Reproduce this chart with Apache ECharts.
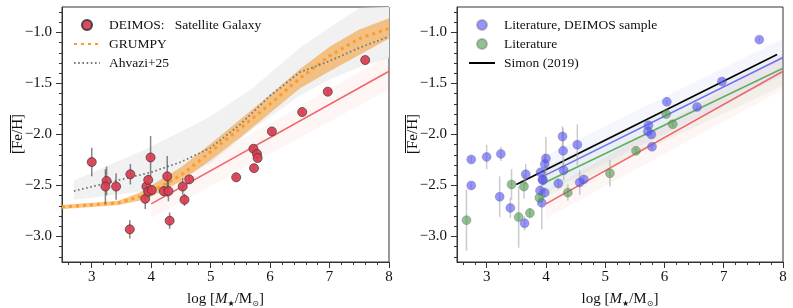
<!DOCTYPE html>
<html>
<head>
<meta charset="utf-8">
<script src="https://cdn.jsdelivr.net/npm/echarts@6.0.0/dist/echarts.min.js"></script>
<style>html,body{margin:0;padding:0;background:#fff;}#c{width:793px;height:308px;}</style>
</head>
<body>
<div id="c"></div>
<script>
// ---------- tick values ----------
const xMajor = [3, 4, 5, 6, 7, 8];
const xMinorTicks = [2.6, 2.8, 3.2, 3.4, 3.6, 3.8, 4.2, 4.4, 4.6, 4.8, 5.2, 5.4, 5.6, 5.8, 6.2, 6.4, 6.6, 6.8, 7.2, 7.4, 7.6, 7.8];
const yMajor = [-3.0, -2.5, -2.0, -1.5, -1.0];
const yMinorTicks = [-3.2, -3.1, -2.9, -2.8, -2.7, -2.6, -2.4, -2.3, -2.2, -2.1, -1.9, -1.8, -1.7, -1.6, -1.4, -1.3, -1.2, -1.1, -0.9, -0.8];

// ---------- left panel: DEIMOS satellite galaxies ----------
const deimosX = [3.00, 3.25, 3.23, 3.41, 3.65, 3.64, 3.90, 3.92, 3.95, 3.95, 3.99, 4.01, 4.21, 4.27, 4.29, 4.31, 4.53, 4.56, 4.64, 5.43, 5.72, 5.73, 5.78, 5.79, 6.03, 6.54, 6.97, 7.60];
const deimosY = [-2.27, -2.455, -2.51, -2.51, -2.39, -2.93, -2.63, -2.51, -2.56, -2.445, -2.225, -2.545, -2.555, -2.41, -2.555, -2.845, -2.51, -2.64, -2.44, -2.42, -2.14, -2.33, -2.19, -2.23, -1.97, -1.78, -1.58, -1.27];
const deimosErr = [0.14, 0.14, 0.17, 0.13, 0.10, 0.09, 0.10, 0.05, 0.05, 0.05, 0.21, 0.05, 0.05, 0.20, 0.10, 0.08, 0.08, 0.06, 0.04, 0.03, 0.03, 0.03, 0.03, 0.03, 0.03, 0.02, 0.02, 0.02];

// GRUMPY model (median and band)
const grumpyX = [2.5, 3.0, 3.45, 3.8, 4.0, 4.5, 5.0, 5.5, 6.0, 6.5, 7.0, 7.5, 8.0];
const grumpyY = [-2.71, -2.69, -2.67, -2.61, -2.56, -2.40, -2.17, -1.94, -1.70, -1.45, -1.23, -1.06, -0.96];
const grumpyLo = [-2.73, -2.71, -2.69, -2.65, -2.61, -2.46, -2.25, -2.03, -1.79, -1.55, -1.38, -1.22, -1.06];
const grumpyHi = [-2.69, -2.67, -2.65, -2.57, -2.50, -2.32, -2.09, -1.85, -1.61, -1.36, -1.14, -0.97, -0.86];

// Ahvazi+25 (median and band)
const ahvX = [2.7, 3.5, 4.0, 4.5, 5.0, 5.5, 6.0, 6.5, 7.0, 7.5, 8.0];
const ahvY = [-2.555, -2.44, -2.37, -2.27, -2.13, -1.90, -1.62, -1.39, -1.28, -1.15, -1.04];
const ahvBandX = [2.7, 4.0, 5.0, 5.7, 6.5, 7.0, 7.5, 8.0];
const ahvBandHi = [-2.45, -2.12, -1.82, -1.55, -1.15, -0.95, -0.76, -0.75];
const ahvBandLo = [-2.64, -2.55, -2.28, -1.95, -1.62, -1.46, -1.34, -1.25];

// DEIMOS fit (red) with band
const redFitX = [4.0, 8.0];
const redFitY = [-2.68, -1.38];
const redFitLo = [-2.82, -1.56];
const redFitHi = [-2.56, -1.22];

// ---------- right panel ----------
const litDeimosX = [2.74, 2.74, 3.00, 3.24, 3.22, 3.40, 3.66, 3.64, 3.91, 3.90, 3.93, 3.94, 3.95, 4.00, 3.98, 3.98, 4.21, 4.28, 4.29, 4.30, 4.53, 4.57, 4.64, 5.73, 5.72, 5.78, 5.79, 6.04, 6.55, 6.97, 7.60];
const litDeimosY = [-2.245, -2.50, -2.22, -2.19, -2.61, -2.72, -2.39, -2.87, -2.37, -2.55, -2.67, -2.44, -2.45, -2.235, -2.29, -2.57, -2.48, -2.02, -2.16, -2.35, -2.10, -2.47, -2.44, -1.91, -1.97, -2.00, -2.12, -1.68, -1.73, -1.48, -1.07];
const litDeimosErr = [0.03, 0.03, 0.12, 0.07, 0.20, 0.10, 0.10, 0.07, 0.03, 0.05, 0.26, 0.05, 0.05, 0.21, 0.10, 0.05, 0.05, 0.10, 0.22, 0.10, 0.20, 0.12, 0.04, 0.03, 0.03, 0.03, 0.03, 0.02, 0.02, 0.02, 0.02];

const litX = [2.66, 3.42, 3.54, 3.63, 3.73, 3.89, 4.37, 5.08, 5.52, 6.03, 6.14];
const litY = [-2.84, -2.49, -2.81, -2.51, -2.77, -2.62, -2.57, -2.38, -2.16, -1.80, -1.90];
const litErr = [0.30, 0.15, 0.30, 0.12, 0.05, 0.05, 0.08, 0.13, 0.03, 0.03, 0.03];

const simonX = [3.5, 7.9];
const simonY = [-2.49, -1.215];
const blueFitX = [3.95, 8.0];
const blueFitY = [-2.41, -1.245];
const blueFitLo = [-2.58, -1.42];
const blueFitHi = [-2.22, -1.06];
const greenFitX = [3.95, 8.0];
const greenFitY = [-2.48, -1.35];
const greenFitLo = [-2.63, -1.52];
const greenFitHi = [-2.33, -1.20];

// ---------- helpers ----------
const FONT = 'Liberation Serif';
const INK = '#111';
const AX = '#333';

function pairs(xs, ys) { return xs.map((x, i) => [x, ys[i]]); }

function xMainAxis(gi) {
  return {
    type: 'value', gridIndex: gi, position: 'bottom', min: 2.5, max: 8,
    name: 'log [{it|M}{s|\u2605}/M{s|\u2299}]',
    nameLocation: 'middle', nameGap: 21,
    nameTextStyle: {
      fontFamily: FONT, fontSize: 15, color: INK, lineHeight: 18,
      rich: {
        it: { fontFamily: FONT, fontStyle: 'italic', fontSize: 15, lineHeight: 18, color: INK },
        s: { fontFamily: 'DejaVu Sans', fontSize: 8, lineHeight: 9, verticalAlign: 'bottom', color: INK }
      }
    },
    axisLine: { show: true, onZero: false, lineStyle: { color: AX, width: 1 } },
    axisTick: { show: true, inside: false, length: 6, customValues: xMajor, lineStyle: { color: AX } },
    axisLabel: { show: true, customValues: xMajor, margin: 8, fontFamily: FONT, fontSize: 15, color: INK },
    splitLine: { show: false }
  };
}
function xMinorAxis(gi) {
  return {
    type: 'value', gridIndex: gi, position: 'bottom', min: 2.5, max: 8,
    axisLine: { show: false },
    axisTick: { show: true, inside: false, length: 3, customValues: xMinorTicks, lineStyle: { color: AX } },
    axisLabel: { show: false }, splitLine: { show: false }
  };
}
function yMainAxis(gi) {
  return {
    type: 'value', gridIndex: gi, position: 'left', min: -3.25, max: -0.75,
    axisLine: { show: true, onZero: false, lineStyle: { color: AX, width: 1 } },
    axisTick: { show: true, inside: false, length: 6, customValues: yMajor, lineStyle: { color: AX } },
    axisLabel: {
      show: true, customValues: yMajor, margin: 10, fontFamily: FONT, fontSize: 15, color: INK,
      formatter: v => (v < 0 ? '\u2212' : '') + Math.abs(v).toFixed(1)
    },
    splitLine: { show: false }
  };
}
function yMinorAxis(gi) {
  return {
    type: 'value', gridIndex: gi, position: 'left', min: -3.25, max: -0.75,
    axisLine: { show: false },
    axisTick: { show: true, inside: false, length: 3, customValues: yMinorTicks, lineStyle: { color: AX } },
    axisLabel: { show: false }, splitLine: { show: false }
  };
}

function band(name, ax, xs, lo, hi, color, z) {
  return {
    type: 'custom', name: name, xAxisIndex: ax, yAxisIndex: ax, silent: true, clip: true, z: z || 1,
    data: [[xs[0], lo[0]]],
    renderItem: function (params, api) {
      const pts = [];
      for (let i = 0; i < xs.length; i++) pts.push(api.coord([xs[i], hi[i]]));
      for (let i = xs.length - 1; i >= 0; i--) pts.push(api.coord([xs[i], lo[i]]));
      return { type: 'polygon', shape: { points: pts }, style: { fill: color } };
    }
  };
}
function errBars(name, ax, xs, ys, es, color) {
  return {
    type: 'custom', name: name, xAxisIndex: ax, yAxisIndex: ax, silent: true, z: 3,
    data: xs.map((x, i) => [x, ys[i], es[i]]),
    encode: { x: 0, y: 1 },
    renderItem: function (params, api) {
      const x = api.value(0), y = api.value(1), e = api.value(2);
      const a = api.coord([x, y - e]), b = api.coord([x, y + e]);
      return { type: 'line', shape: { x1: a[0], y1: a[1], x2: b[0], y2: b[1] }, style: { stroke: color, lineWidth: 1.5 } };
    }
  };
}
function line(name, ax, xs, ys, ls, z) {
  return {
    type: 'line', name: name, xAxisIndex: ax, yAxisIndex: ax, data: pairs(xs, ys),
    symbol: 'none', showSymbol: false, silent: true, z: z || 2, lineStyle: ls, clip: true,
    itemStyle: { color: ls.color }
  };
}
function scatter(name, ax, xs, ys, style) {
  return {
    type: 'scatter', name: name, xAxisIndex: ax, yAxisIndex: ax, data: pairs(xs, ys),
    symbol: 'circle', symbolSize: 9, itemStyle: style, z: 5, silent: true
  };
}

function yLabel(cx) {
  return {
    type: 'group', x: cx, y: 134, rotation: Math.PI / 2, silent: true,
    children: [
      { type: 'text', style: { text: '[Fe/H]', x: 0, y: 0, textAlign: 'center', textVerticalAlign: 'middle', align: 'center', verticalAlign: 'middle', font: '15px "Liberation Serif"', fill: INK } },
      { type: 'line', shape: { x1: -19, y1: -7.5, x2: 19, y2: -7.5 }, style: { stroke: INK, lineWidth: 1 } }
    ]
  };
}

const legendCommon = {
  orient: 'vertical', itemWidth: 26, itemHeight: 10, itemGap: 5, padding: 0,
  selectedMode: false,
  textStyle: { fontFamily: FONT, fontSize: 13.5, color: INK, padding: [0, 0, 0, 4] }
};
const noSym = { opacity: 0, borderWidth: 0 };

const gridCommon = { top: 7, height: 255, show: true, borderColor: AX, borderWidth: 1, backgroundColor: 'transparent', containLabel: false, outerBoundsMode: 'none' };

const option = {
  animation: false,
  backgroundColor: '#fff',
  textStyle: { fontFamily: FONT },
  grid: [
    Object.assign({ left: 62, width: 327 }, gridCommon),
    Object.assign({ left: 457, width: 326 }, gridCommon)
  ],
  xAxis: [xMainAxis(0), xMinorAxis(0), xMainAxis(1), xMinorAxis(1)],
  yAxis: [yMainAxis(0), yMinorAxis(0), yMainAxis(1), yMinorAxis(1)],
  legend: [
    Object.assign({}, legendCommon, { left: 73, top: 18, data: [
      { name: 'DEIMOS:   Satellite Galaxy' },
      { name: 'GRUMPY', itemStyle: noSym },
      { name: 'Ahvazi+25', itemStyle: noSym }
    ] }),
    Object.assign({}, legendCommon, { left: 468, top: 18, data: [
      { name: 'Literature, DEIMOS sample' },
      { name: 'Literature' },
      { name: 'Simon (2019)', itemStyle: noSym }
    ] })
  ],
  graphic: [yLabel(18), yLabel(413)],
  series: [
    // left panel
    band('ahvBand', 0, ahvBandX, ahvBandLo, ahvBandHi, '#f1f1f1', 1),
    band('redBandL', 0, redFitX, redFitLo, redFitHi, 'rgba(240,90,90,0.06)', 1),
    band('grumpyBand', 0, grumpyX, grumpyLo, grumpyHi, 'rgba(245,160,60,0.6)', 1),
    line('redFitL', 0, redFitX, redFitY, { color: '#f26468', width: 1.5 }),
    line('GRUMPY', 0, grumpyX, grumpyY, { color: '#ff9b22', width: 3, type: [3, 4], cap: 'butt' }),
    line('Ahvazi+25', 0, ahvX, ahvY, { color: '#777777', width: 1.8, type: [1.6, 2.6], cap: 'butt' }),
    errBars('errL', 0, deimosX, deimosY, deimosErr, 'rgba(70,70,70,0.65)'),
    scatter('DEIMOS:   Satellite Galaxy', 0, deimosX, deimosY, { color: '#dc3b50', borderColor: '#3a3a3a', borderWidth: 0.8, opacity: 0.92 }),
    // right panel
    band('blueBand', 2, blueFitX, blueFitLo, blueFitHi, 'rgba(110,110,240,0.07)', 1),
    band('greenBand', 2, greenFitX, greenFitLo, greenFitHi, 'rgba(90,170,90,0.07)', 1),
    band('redBandR', 2, redFitX, redFitLo, redFitHi, 'rgba(240,90,90,0.06)', 1),
    line('redFitR', 2, redFitX, redFitY, { color: '#f26468', width: 1.5 }),
    line('greenFit', 2, greenFitX, greenFitY, { color: '#5fae5f', width: 1.5 }),
    line('blueFit', 2, blueFitX, blueFitY, { color: '#6f6ff2', width: 1.5 }),
    line('Simon (2019)', 2, simonX, simonY, { color: '#000000', width: 1.6 }),
    errBars('errR1', 2, litDeimosX, litDeimosY, litDeimosErr, 'rgba(160,160,160,0.55)'),
    errBars('errR2', 2, litX, litY, litErr, 'rgba(160,160,160,0.55)'),
    scatter('Literature, DEIMOS sample', 2, litDeimosX, litDeimosY, { color: 'rgba(85,85,248,0.78)', borderColor: 'rgba(90,90,90,0.45)', borderWidth: 0.8 }),
    scatter('Literature', 2, litX, litY, { color: 'rgba(75,150,75,0.75)', borderColor: 'rgba(90,90,90,0.45)', borderWidth: 0.8 })
  ]
};

const chart = echarts.init(document.getElementById('c'), null, { renderer: 'canvas' });
chart.setOption(option);
</script>
</body>
</html>
